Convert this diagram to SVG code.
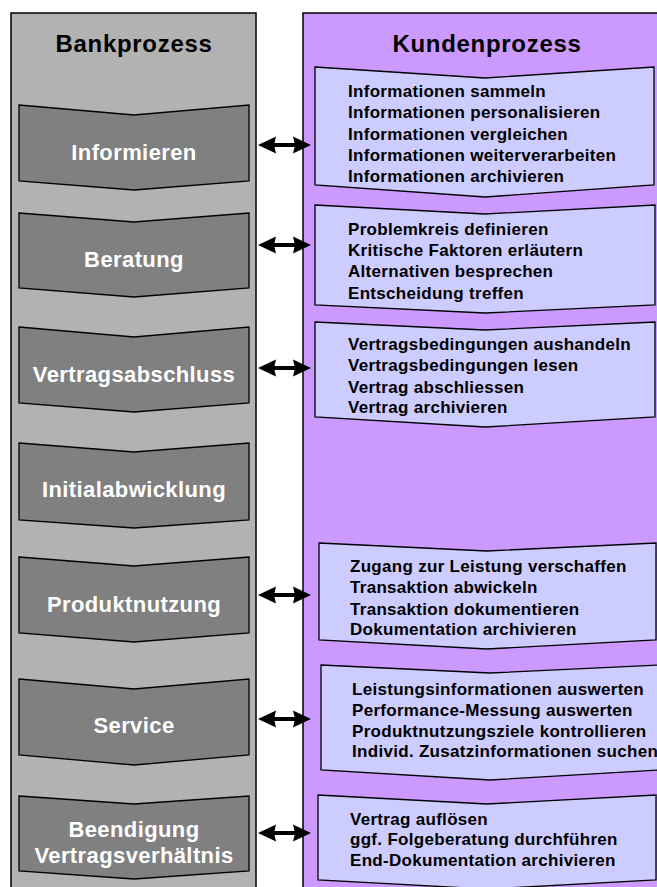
<svg xmlns="http://www.w3.org/2000/svg" xmlns:xlink="http://www.w3.org/1999/xlink" width="657" height="887" viewBox="0 0 657 887">
  <style>
    .panel-bank { fill: #B2B2B2; stroke: #000; stroke-width: 1.5; }
    .panel-kunde { fill: #CC99FF; stroke: #000; stroke-width: 1.5; }
    .step { fill: #808080; stroke: #000; stroke-width: 1.3; }
    .task { fill: #CCCCFF; stroke: #000; stroke-width: 1.3; }
    .title { font-family: "Liberation Sans", Arial, sans-serif; font-weight: bold; font-size: 24px; letter-spacing: 0.7px; fill: #000; text-anchor: middle; }
    .step-label { font-family: "Liberation Sans", Arial, sans-serif; font-weight: bold; font-size: 22px; letter-spacing: 0.4px; fill: #fff; text-anchor: middle; }
    .task-label { font-family: "Liberation Sans", Arial, sans-serif; font-weight: bold; font-size: 17px; letter-spacing: 0.3px; fill: #000; }
    .arrow { fill: #000; }
  </style>
  <defs>
    <!-- double-headed arrow, 53 px long, centred on y=0 -->
    <path id="dblArrow" d="M0,0 L18,-8.5 L16.5,-1.9 L36.5,-1.9 L35,-8.5 L53,0 L35,8.5 L36.5,1.9 L16.5,1.9 L18,8.5 Z"/>
  </defs>

  <rect width="657" height="887" fill="#fff"/>

  <!-- swimlanes -->
  <g id="lane-bank">
    <rect class="panel-bank" x="11" y="13" width="245" height="880"/>
    <text class="title" x="134" y="52">Bankprozess</text>
  </g>
  <g id="lane-kunde">
    <rect class="panel-kunde" x="303" y="13" width="370" height="880"/>
    <text class="title" x="487" y="52">Kundenprozess</text>
  </g>

  <!-- bank process steps -->
  <g id="step-informieren">
    <path class="step" d="M19,105 L134,115 L249,105 L249,181 L134,190 L19,181 Z"/>
    <text class="step-label" x="134" y="160">Informieren</text>
  </g>
  <g id="step-beratung">
    <path class="step" d="M19,213 L134,222 L249,213 L249,288 L134,297 L19,288 Z"/>
    <text class="step-label" x="134" y="267">Beratung</text>
  </g>
  <g id="step-vertragsabschluss">
    <path class="step" d="M19,327 L134,337 L249,327 L249,403 L134,412 L19,403 Z"/>
    <text class="step-label" x="134" y="382">Vertragsabschluss</text>
  </g>
  <g id="step-initialabwicklung">
    <path class="step" d="M19,443 L134,452 L249,443 L249,520 L134,528 L19,520 Z"/>
    <text class="step-label" x="134" y="497">Initialabwicklung</text>
  </g>
  <g id="step-produktnutzung">
    <path class="step" d="M19,557 L134,566 L249,557 L249,633 L134,642 L19,633 Z"/>
    <text class="step-label" x="134" y="612">Produktnutzung</text>
  </g>
  <g id="step-service">
    <path class="step" d="M19,679 L134,689 L249,679 L249,755 L134,765 L19,755 Z"/>
    <text class="step-label" x="134" y="733">Service</text>
  </g>
  <g id="step-beendigung">
    <path class="step" d="M19,796 L134,804 L249,796 L249,871 L134,879 L19,871 Z"/>
    <text class="step-label" x="134" y="837">Beendigung</text>
    <text class="step-label" x="134" y="863">Vertragsverhältnis</text>
  </g>

  <!-- customer process tasks -->
  <g id="tasks-informieren">
    <path class="task" d="M315,67 L485,78 L654,67 L654,185 L485,197 L315,185 Z"/>
    <text class="task-label" x="348" y="97">Informationen sammeln</text>
    <text class="task-label" x="348" y="118">Informationen personalisieren</text>
    <text class="task-label" x="348" y="139.5">Informationen vergleichen</text>
    <text class="task-label" x="348" y="161">Informationen weiterverarbeiten</text>
    <text class="task-label" x="348" y="182">Informationen archivieren</text>
  </g>
  <g id="tasks-beratung">
    <path class="task" d="M315,205 L485,214 L655,205 L655,305 L485,313 L315,305 Z"/>
    <text class="task-label" x="348" y="235">Problemkreis definieren</text>
    <text class="task-label" x="348" y="256">Kritische Faktoren erläutern</text>
    <text class="task-label" x="348" y="277">Alternativen besprechen</text>
    <text class="task-label" x="348" y="299">Entscheidung treffen</text>
  </g>
  <g id="tasks-vertragsabschluss">
    <path class="task" d="M315,322 L485,330 L655,322 L655,417 L485,427 L315,417 Z"/>
    <text class="task-label" x="348" y="350">Vertragsbedingungen aushandeln</text>
    <text class="task-label" x="348" y="371">Vertragsbedingungen lesen</text>
    <text class="task-label" x="348" y="392.5">Vertrag abschliessen</text>
    <text class="task-label" x="348" y="413">Vertrag archivieren</text>
  </g>
  <g id="tasks-produktnutzung">
    <path class="task" d="M319,543 L487,551 L656,543 L656,640 L487,649 L319,640 Z"/>
    <text class="task-label" x="350" y="572">Zugang zur Leistung verschaffen</text>
    <text class="task-label" x="350" y="593">Transaktion abwickeln</text>
    <text class="task-label" x="350" y="614.5">Transaktion dokumentieren</text>
    <text class="task-label" x="350" y="635">Dokumentation archivieren</text>
  </g>
  <g id="tasks-service">
    <path class="task" d="M321,665 L490,673 L659,665 L659,770 L490,780 L321,770 Z"/>
    <text class="task-label" x="352" y="695">Leistungsinformationen auswerten</text>
    <text class="task-label" x="352" y="715.5">Performance-Messung auswerten</text>
    <text class="task-label" x="352" y="736.5">Produktnutzungsziele kontrollieren</text>
    <text class="task-label" x="352" y="757">Individ. Zusatzinformationen suchen</text>
  </g>
  <g id="tasks-beendigung">
    <path class="task" d="M318,795 L487,804 L656,795 L656,880 L487,889 L318,880 Z"/>
    <text class="task-label" x="350" y="825">Vertrag auflösen</text>
    <text class="task-label" x="350" y="845">ggf. Folgeberatung durchführen</text>
    <text class="task-label" x="350" y="866">End-Dokumentation archivieren</text>
  </g>

  <!-- connectors between bank steps and customer tasks -->
  <g id="connectors" class="arrow">
    <use xlink:href="#dblArrow" x="258" y="145"/>
    <use xlink:href="#dblArrow" x="258" y="245"/>
    <use xlink:href="#dblArrow" x="258" y="368"/>
    <use xlink:href="#dblArrow" x="258" y="595"/>
    <use xlink:href="#dblArrow" x="258" y="719"/>
    <use xlink:href="#dblArrow" x="258" y="833"/>
  </g>
</svg>
